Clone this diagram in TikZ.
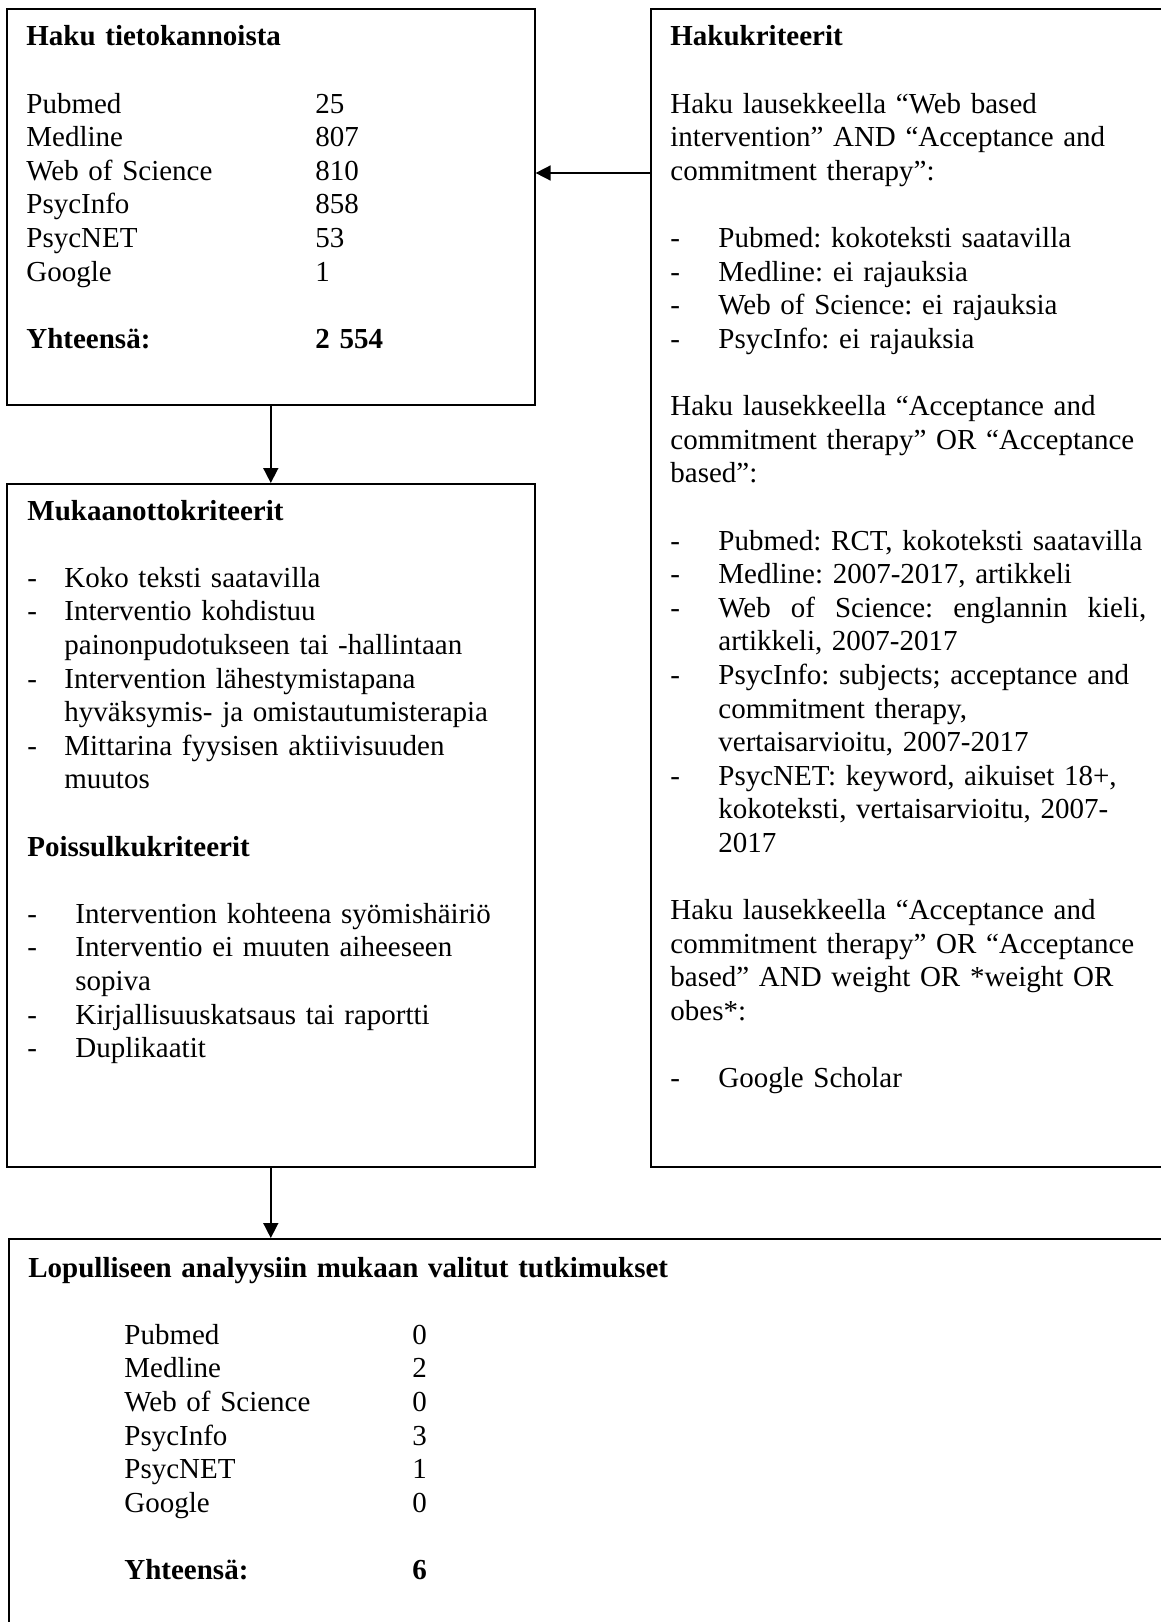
\documentclass[tikz,border=0pt]{standalone}
\usepackage{fontspec}
\setmainfont{Liberation Serif}
\usetikzlibrary{arrows.meta}
\frenchspacing
\newcommand{\bl}{\\[16.8pt]}
\newcommand{\dsh}[1]{\makebox[#1][l]{-}}
\begin{document}
\begin{tikzpicture}[x=0.5pt,y=-0.5pt,
  box/.style={draw=black,line width=0.8pt,rectangle,anchor=north west,inner sep=0pt},
  txt/.style={anchor=base west,inner sep=0pt,align=left,text width=540pt,
    font=\fontsize{14.5pt}{16.8pt}\selectfont\frenchspacing},
  arr/.style={line width=0.8pt,-{Triangle[length=7.5pt,width=7.5pt]}}]
\useasboundingbox (0,0) rectangle (1161,1622);
\fill[white] (0,0) rectangle (1161,1622);

% boxes
\node[box,minimum width=264pt,minimum height=198pt] (box1) at (6,8) {};
\node[box,minimum width=260pt,minimum height=579pt] (box2) at (650,8) {};
\node[box,minimum width=264pt,minimum height=341.5pt] (box3) at (6,483) {};
\node[box,minimum width=581pt,minimum height=201pt] (box4) at (8,1238) {};

% texts
\node[txt] (t1) at (26,46) {\textbf{Haku tietokannoista}\bl
\makebox[144.5pt][l]{Pubmed}25\\
\makebox[144.5pt][l]{Medline}807\\
\makebox[144.5pt][l]{Web of Science}810\\
\makebox[144.5pt][l]{PsycInfo}858\\
\makebox[144.5pt][l]{PsycNET}53\\
\makebox[144.5pt][l]{Google}1\bl
\makebox[144.5pt][l]{\textbf{Yhteensä:}}\textbf{2 554}};

\node[txt] (t2) at (670,46) {\textbf{Hakukriteerit}\bl
Haku lausekkeella “Web based\\
intervention” AND “Acceptance and\\
commitment therapy”:\bl
\dsh{24pt}Pubmed: kokoteksti saatavilla\\
\dsh{24pt}Medline: ei rajauksia\\
\dsh{24pt}Web of Science: ei rajauksia\\
\dsh{24pt}PsycInfo: ei rajauksia\bl
Haku lausekkeella “Acceptance and\\
commitment therapy” OR “Acceptance\\
based”:\bl
\dsh{24pt}Pubmed: RCT, kokoteksti saatavilla\\
\dsh{24pt}Medline: 2007-2017, artikkeli\\
\dsh{24pt}\hbox to 214pt{Web\hfill of\hfill Science:\hfill englannin\hfill kieli,}\\
\hspace*{24pt}artikkeli, 2007-2017\\
\dsh{24pt}PsycInfo: subjects; acceptance and\\
\hspace*{24pt}commitment therapy,\\
\hspace*{24pt}vertaisarvioitu, 2007-2017\\
\dsh{24pt}PsycNET: keyword, aikuiset 18+,\\
\hspace*{24pt}kokoteksti, vertaisarvioitu, 2007-\\
\hspace*{24pt}2017\bl
Haku lausekkeella “Acceptance and\\
commitment therapy” OR “Acceptance\\
based” AND weight OR *weight OR\\
obes*:\bl
\dsh{24pt}Google Scholar};

\node[txt] (t3) at (27,520) {\textbf{Mukaanottokriteerit}\bl
\dsh{18.5pt}Koko teksti saatavilla\\
\dsh{18.5pt}Interventio kohdistuu\\
\hspace*{18.5pt}painonpudotukseen tai -hallintaan\\
\dsh{18.5pt}Intervention lähestymistapana\\
\hspace*{18.5pt}hyväksymis- ja omistautumisterapia\\
\dsh{18.5pt}Mittarina fyysisen aktiivisuuden\\
\hspace*{18.5pt}muutos\bl
\textbf{Poissulkukriteerit}\bl
\dsh{24pt}Intervention kohteena syömishäiriö\\
\dsh{24pt}Interventio ei muuten aiheeseen\\
\hspace*{24pt}sopiva\\
\dsh{24pt}Kirjallisuuskatsaus tai raportti\\
\dsh{24pt}Duplikaatit};

\node[txt] (t4) at (28,1277) {\textbf{Lopulliseen analyysiin mukaan valitut tutkimukset}\bl
\hspace*{48pt}\makebox[144pt][l]{Pubmed}0\\
\hspace*{48pt}\makebox[144pt][l]{Medline}2\\
\hspace*{48pt}\makebox[144pt][l]{Web of Science}0\\
\hspace*{48pt}\makebox[144pt][l]{PsycInfo}3\\
\hspace*{48pt}\makebox[144pt][l]{PsycNET}1\\
\hspace*{48pt}\makebox[144pt][l]{Google}0\bl
\hspace*{48pt}\makebox[144pt][l]{\textbf{Yhteensä:}}\textbf{6}};

% connectors
\coordinate (h) at (600,173);
\draw[arr] (box2.west |- h) -- (box1.east |- h);
\draw[arr] (box1.south) -- (box3.north);
\draw[arr] (box3.south) -- (box3.south |- box4.north);
\end{tikzpicture}
\end{document}
